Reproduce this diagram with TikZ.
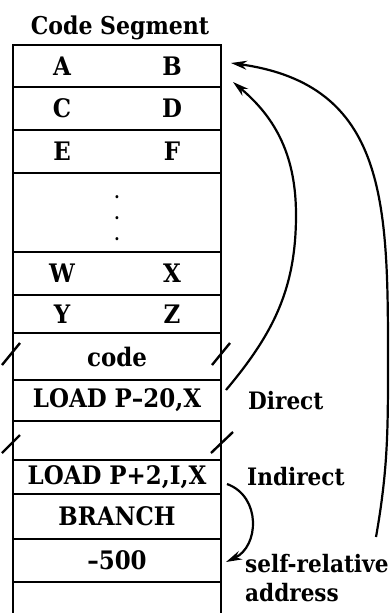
\documentclass[tikz,border=0pt]{standalone}
\usepackage{fontspec}
\setmainfont{DejaVu Serif Condensed}
\usetikzlibrary{arrows.meta,positioning,calc}
\newcommand{\cellpair}[2]{\makebox[0pt]{#1}\hspace{110pt}\makebox[0pt]{#2}}

\begin{document}
\begin{tikzpicture}[
    node distance=0pt,
    txt/.style={font=\fontsize{24}{29}\selectfont\bfseries},
    cell/.style={font=\fontsize{25.5}{29}\selectfont\bfseries,rectangle,draw,line width=2.8pt,minimum width=208pt,inner sep=0pt,outer sep=0pt,align=center},
    note/.style={txt,inner sep=0pt,align=left},
    brk/.style={line width=2.4pt},
    link/.style={line width=2.2pt,-{Stealth[length=16pt,width=9pt]}}
]
    \useasboundingbox (0,0) rectangle (390pt,-613pt);

    % the segment, row by row
    \node[cell,minimum height=42pt] (ab) at (117pt,-66pt) {\cellpair{A}{B}};
    \node[cell,minimum height=43pt,below=of ab] (cd) {\cellpair{C}{D}};
    \node[cell,minimum height=43pt,below=of cd] (ef) {\cellpair{E}{F}};
    \node[cell,minimum height=79pt,below=of ef,font=\fontsize{17}{21}\selectfont\bfseries,text height=56pt] (dots) {.\\.\\.};
    \node[cell,minimum height=43pt,below=of dots] (wx) {\cellpair{W}{X}};
    \node[cell,minimum height=38pt,below=of wx] (yz) {\cellpair{Y}{Z}};
    \node[cell,minimum height=47pt,below=of yz] (code) {code};
    \node[cell,minimum height=41pt,below=of code] (ldd) {LOAD P--20,X};
    \node[cell,minimum height=39pt,below=of ldd] (gap) {};
    \node[cell,minimum height=34pt,below=of gap] (ldi) {LOAD P+2,I,X};
    \node[cell,minimum height=45pt,below=of ldi] (br) {BRANCH};
    \node[cell,minimum height=43pt,below=of br] (m500) {--500};
    \draw[line width=2.8pt] (m500.south west) -- ++(0,-35pt) (m500.south east) -- ++(0,-35pt);

    \node[txt,font=\fontsize{24.5}{29}\selectfont\bfseries,inner sep=0pt,above=5pt of ab,xshift=3pt] (title) {Code Segment};

    % labels
    \node[note,right=27pt of ldd] (direct) {Direct};
    \node[note,right=26pt of ldi] (indirect) {Indirect};
    \node[note,right=24pt of m500,yshift=-18pt] (selfrel) {self-relative\\address};

    % breaks
    \draw[brk] ([shift={(-11pt,-8.5pt)}]code.west) -- ++(18pt,22pt);
    \draw[brk] ([shift={(-9pt,-8.5pt)}]code.east) -- ++(18pt,22pt);
    \draw[brk] ([shift={(-11pt,-12.5pt)}]gap.west) -- ++(18pt,18pt);
    \draw[brk] ([shift={(-10pt,-12.5pt)}]gap.east) -- ++(22pt,21pt);

    % arrows
    \coordinate (t1) at ([shift={(5pt,-10pt)}]ldd.north east);
    \coordinate (h1) at ([shift={(12pt,5pt)}]ab.south east);
    \coordinate (t2) at ([shift={(155pt,2pt)}]m500.north east);
    \coordinate (h2) at ([shift={(10pt,3pt)}]ab.east);
    \draw[link] (t1) to[out=50,in=-90] ++(70pt,175pt) to[out=90,in=-40] (h1);
    \draw[link] (t2) to[out=80,in=-90] ++(12pt,177pt) to[out=90,in=-8,looseness=1.2] (h2);
    \draw[link] ([shift={(6pt,10pt)}]ldi.south east) to[out=-20,in=25,looseness=1.2] ([shift={(5pt,-1.5pt)}]m500.east);
\end{tikzpicture}
\end{document}
